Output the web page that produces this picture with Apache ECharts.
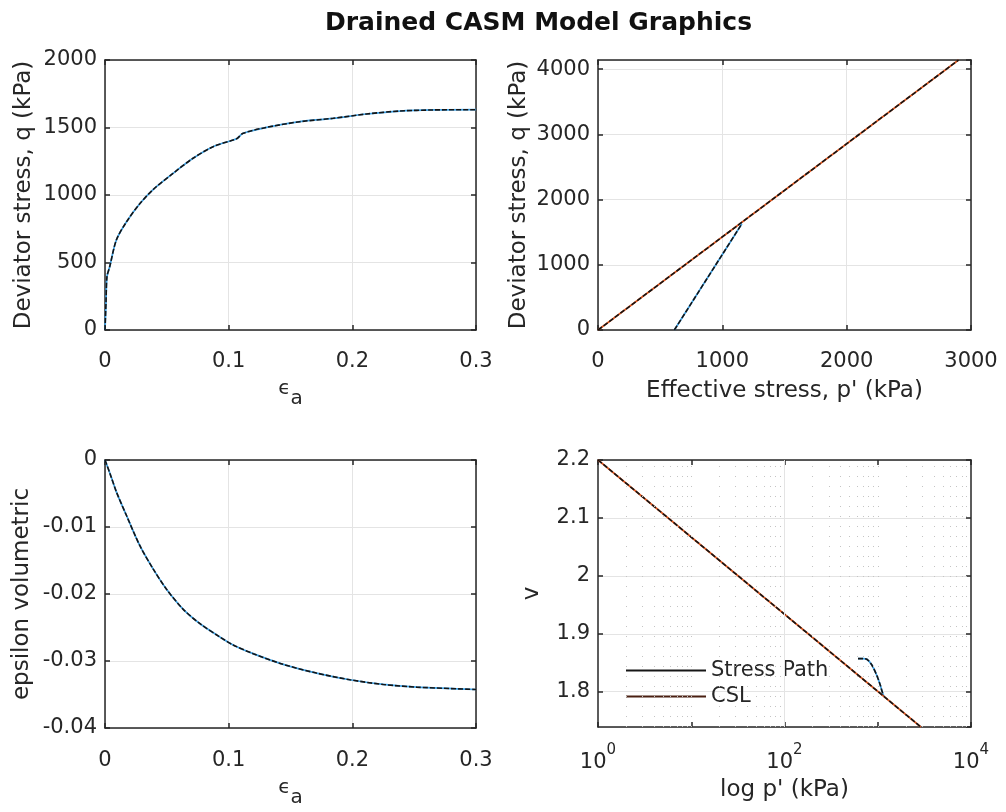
<!DOCTYPE html>
<html>
<head>
<meta charset="utf-8">
<title>Drained CASM Model Graphics</title>
<script src="https://cdn.jsdelivr.net/npm/echarts@6/dist/echarts.min.js"></script>
<style>
  html, body { margin: 0; padding: 0; background: #ffffff; }
  #chart { width: 1006px; height: 812px; }
</style>
</head>
<body>
<div id="chart"></div>
<script>
// ---- q vs axial strain ----
const axialStrainQ = [0, 0.0008, 0.0016, 0.0038, 0.0092, 0.0173, 0.0281, 0.0389, 0.055, 0.0712, 0.0874, 0.1036, 0.107, 0.1117, 0.1306, 0.1576, 0.1845, 0.2115, 0.2385, 0.2655, 0.3];
const deviatorQ    = [0, 200, 395, 469, 667, 800, 935, 1040, 1160, 1272, 1358, 1407, 1420, 1457, 1501, 1543, 1568, 1600, 1622, 1630, 1632];

// ---- volumetric strain vs axial strain ----
const axialStrainV = [0, 0.004, 0.0092, 0.0173, 0.0281, 0.0389, 0.0496, 0.0631, 0.0766, 0.0928, 0.1036, 0.1198, 0.1441, 0.171, 0.198, 0.225, 0.252, 0.3];
const volStrain    = [0, -0.002, -0.00475, -0.00825, -0.01275, -0.01625, -0.01925, -0.02225, -0.0244, -0.0264, -0.0276, -0.0289, -0.0305, -0.0318, -0.0328, -0.0335, -0.0339, -0.03425];

// ---- q vs p' (stress path and critical state line) ----
const pathP = [614, 780, 950, 1100, 1157];
const pathQ = [0, 498, 1008, 1458, 1630];
const cslP  = [0, 2900];
const cslQ  = [0, 4141];

// ---- specific volume vs log p' ----
const pathLogP = [614, 700, 764, 865, 977, 1061, 1120, 1157];
const pathV    = [1.857, 1.857, 1.856, 1.846, 1.828, 1.812, 1.799, 1.793];
const cslLogP  = [1, 2900];
const cslV     = [2.2, 1.739];

// ---- axis tick settings ----
const strainTicks = { min: 0, max: 0.3, interval: 0.1 };
const qTicks      = { min: 0, max: 2000, interval: 500 };
const pTicks      = { min: 0, max: 3000, interval: 1000 };
const q2Ticks     = { min: 0, max: 4141, interval: 1000 };
const evTicks     = { min: -0.04, max: 0, interval: 0.01 };
const logPRange   = { min: 1, max: 10000 };
const vRange      = { min: 1.739, max: 2.2 };

const FONT = 'DejaVu Sans';
const INK = '#262626';
const GRID_C = '#e4e4e4';
const BLUE = '#3ea2e6';
const ORANGE = '#e0561e';
const DARK = '#141414';

function zip(xs, ys) { return xs.map((x, i) => [x, ys[i]]); }
function plainNumber(v) { return String(+v.toPrecision(10)); }

function axisBase(gridIndex, extra) {
  return Object.assign({
    gridIndex: gridIndex,
    type: 'value',
    axisLine: { show: true, onZero: false, lineStyle: { color: INK, width: 1.5 } },
    axisTick: { show: true, inside: true, length: 5, lineStyle: { color: INK, width: 1.5 } },
    axisLabel: { show: true, fontFamily: FONT, fontSize: 21, color: INK, formatter: plainNumber },
    splitLine: { show: true, lineStyle: { color: GRID_C, width: 1 } },
    nameLocation: 'middle',
    nameTextStyle: { fontFamily: FONT, fontSize: 23, color: INK }
  }, extra);
}
function mirror(axis, position) {
  const m = Object.assign({}, axis, { position: position, name: '' });
  m.axisLabel = { show: false };
  m.splitLine = { show: false };
  return m;
}

const grids = [
  { left: 105, top: 60,  width: 371, height: 270 },
  { left: 598, top: 60,  width: 373, height: 270 },
  { left: 105, top: 460, width: 371, height: 268 },
  { left: 598, top: 460, width: 373, height: 267 }
];

function epsName(gap) {
  return {
    name: '{e|\u03f5}{s|a}',
    nameGap: gap,
    nameTextStyle: {
      fontFamily: FONT, color: INK,
      rich: {
        e: { fontFamily: FONT, fontSize: 20, color: INK, lineHeight: 30, verticalAlign: 'top' },
        s: { fontFamily: FONT, fontSize: 20, color: INK, lineHeight: 20, verticalAlign: 'bottom' }
      }
    }
  };
}

// bottom / left axes
const x0 = axisBase(0, Object.assign({ position: 'bottom' }, strainTicks, epsName(49)));
x0.axisLabel = Object.assign({}, x0.axisLabel, { margin: 21 });
const x1 = axisBase(1, Object.assign({ position: 'bottom', name: "Effective stress, p' (kPa)", nameGap: 50 }, pTicks));
x1.axisLabel = Object.assign({}, x1.axisLabel, { margin: 21 });
const x2 = axisBase(2, Object.assign({ position: 'bottom' }, strainTicks, epsName(50)));
x2.axisLabel = Object.assign({}, x2.axisLabel, { margin: 22 });
const x3 = axisBase(3, Object.assign({ position: 'bottom', type: 'log', logBase: 10, splitNumber: 3, name: "log p' (kPa)", nameGap: 52 }, logPRange));
x3.splitLine = { show: false };
x3.axisLabel = {
  margin: 16,
  formatter: function (v) {
    const e = Math.round(Math.log10(v));
    return e % 2 === 0 ? '{b|10}{p|' + e + '}' : '';
  },
  rich: {
    b: { fontFamily: FONT, fontSize: 21, color: INK, lineHeight: 30, verticalAlign: 'bottom' },
    p: { fontFamily: FONT, fontSize: 15, color: INK, lineHeight: 14, verticalAlign: 'top' }
  }
};

const y0 = axisBase(0, Object.assign({ position: 'left', name: 'Deviator stress, q (kPa)', nameGap: 69 }, qTicks));
y0.axisLabel = Object.assign({}, y0.axisLabel, { margin: 8 });
const y1 = axisBase(1, Object.assign({ position: 'left', name: 'Deviator stress, q (kPa)', nameGap: 67 }, q2Ticks));
y1.axisLabel = Object.assign({}, y1.axisLabel, { margin: 8, showMaxLabel: false });
const y2 = axisBase(2, Object.assign({ position: 'left', name: 'epsilon volumetric', nameGap: 71 }, evTicks));
y2.axisLabel = Object.assign({}, y2.axisLabel, { margin: 8 });
const y3 = axisBase(3, Object.assign({ position: 'left', name: 'v', nameGap: 54, splitNumber: 5 }, vRange));
y3.axisLabel = Object.assign({}, y3.axisLabel, { margin: 8, showMinLabel: false });

const xAxes = [x0, mirror(x0, 'top'), x1, mirror(x1, 'top'), x2, mirror(x2, 'top'), x3, mirror(x3, 'top')];
const yAxes = [y0, mirror(y0, 'right'), y1, mirror(y1, 'right'), y2, mirror(y2, 'right'), y3, mirror(y3, 'right')];

// a coloured line with a black dashed trace over it
function tracedLine(name, grid, data, color, smooth) {
  const idx = grid * 2;
  const common = {
    name: name, type: 'line', xAxisIndex: idx, yAxisIndex: idx, data: data,
    showSymbol: false, symbol: 'none', silent: true, clip: true,
    smooth: smooth || false
  };
  return [
    Object.assign({}, common, { lineStyle: { color: color, width: 1.7 }, z: 3 }),
    Object.assign({}, common, { lineStyle: { color: DARK, width: 1.6, type: [5, 2] }, z: 4 })
  ];
}

// minor log grid for the v - log p' panel
const minorLogP = [];
[1, 10, 100, 1000].forEach(function (d) {
  for (let k = 1; k <= 9; k++) {
    const v = d * k;
    if (v !== 1 && v !== 100) minorLogP.push(v);
  }
});
const logGridSeries = {
  name: 'logGrid', type: 'line', xAxisIndex: 6, yAxisIndex: 6, data: [], silent: true, z: 1,
  markLine: {
    silent: true, symbol: ['none', 'none'], label: { show: false }, animation: false,
    data: minorLogP.map(function (v) {
      return { xAxis: v, lineStyle: { color: '#c4c4c4', width: 1, type: [1, 9] } };
    }).concat([{ xAxis: 100, lineStyle: { color: GRID_C, width: 1, type: 'solid' } }])
  }
};

const series = [].concat(
  tracedLine('q', 0, zip(axialStrainQ, deviatorQ), BLUE, 0.3),
  tracedLine('CSL', 1, zip(cslP, cslQ), ORANGE, false),
  tracedLine('Stress Path', 1, zip(pathP, pathQ), BLUE, false),
  tracedLine('ev', 2, zip(axialStrainV, volStrain), BLUE, 0.3),
  [logGridSeries],
  tracedLine('Stress Path', 3, zip(pathLogP, pathV), BLUE, 0.3),
  tracedLine('CSL', 3, zip(cslLogP, cslV), ORANGE, false)
);

const chart = echarts.init(document.getElementById('chart'), null, { renderer: 'canvas' });
chart.setOption({
  animation: false,
  backgroundColor: '#ffffff',
  title: {
    text: 'Drained CASM Model Graphics',
    left: 325, top: 11, padding: 0,
    textStyle: { fontFamily: FONT, fontSize: 25, fontWeight: 'bold', color: '#111111' }
  },
  legend: {
    data: [
      { name: 'Stress Path', icon: 'rect', itemStyle: { color: '#161616' } },
      { name: 'CSL', icon: 'rect', itemStyle: { color: '#4a2012' } }
    ],
    orient: 'vertical', left: 621, top: 655,
    itemWidth: 80, itemHeight: 2, itemGap: 5,
    selectedMode: false,
    textStyle: { fontFamily: FONT, fontSize: 21, color: INK }
  },
  grid: grids,
  xAxis: xAxes,
  yAxis: yAxes,
  series: series
});
</script>
</body>
</html>
